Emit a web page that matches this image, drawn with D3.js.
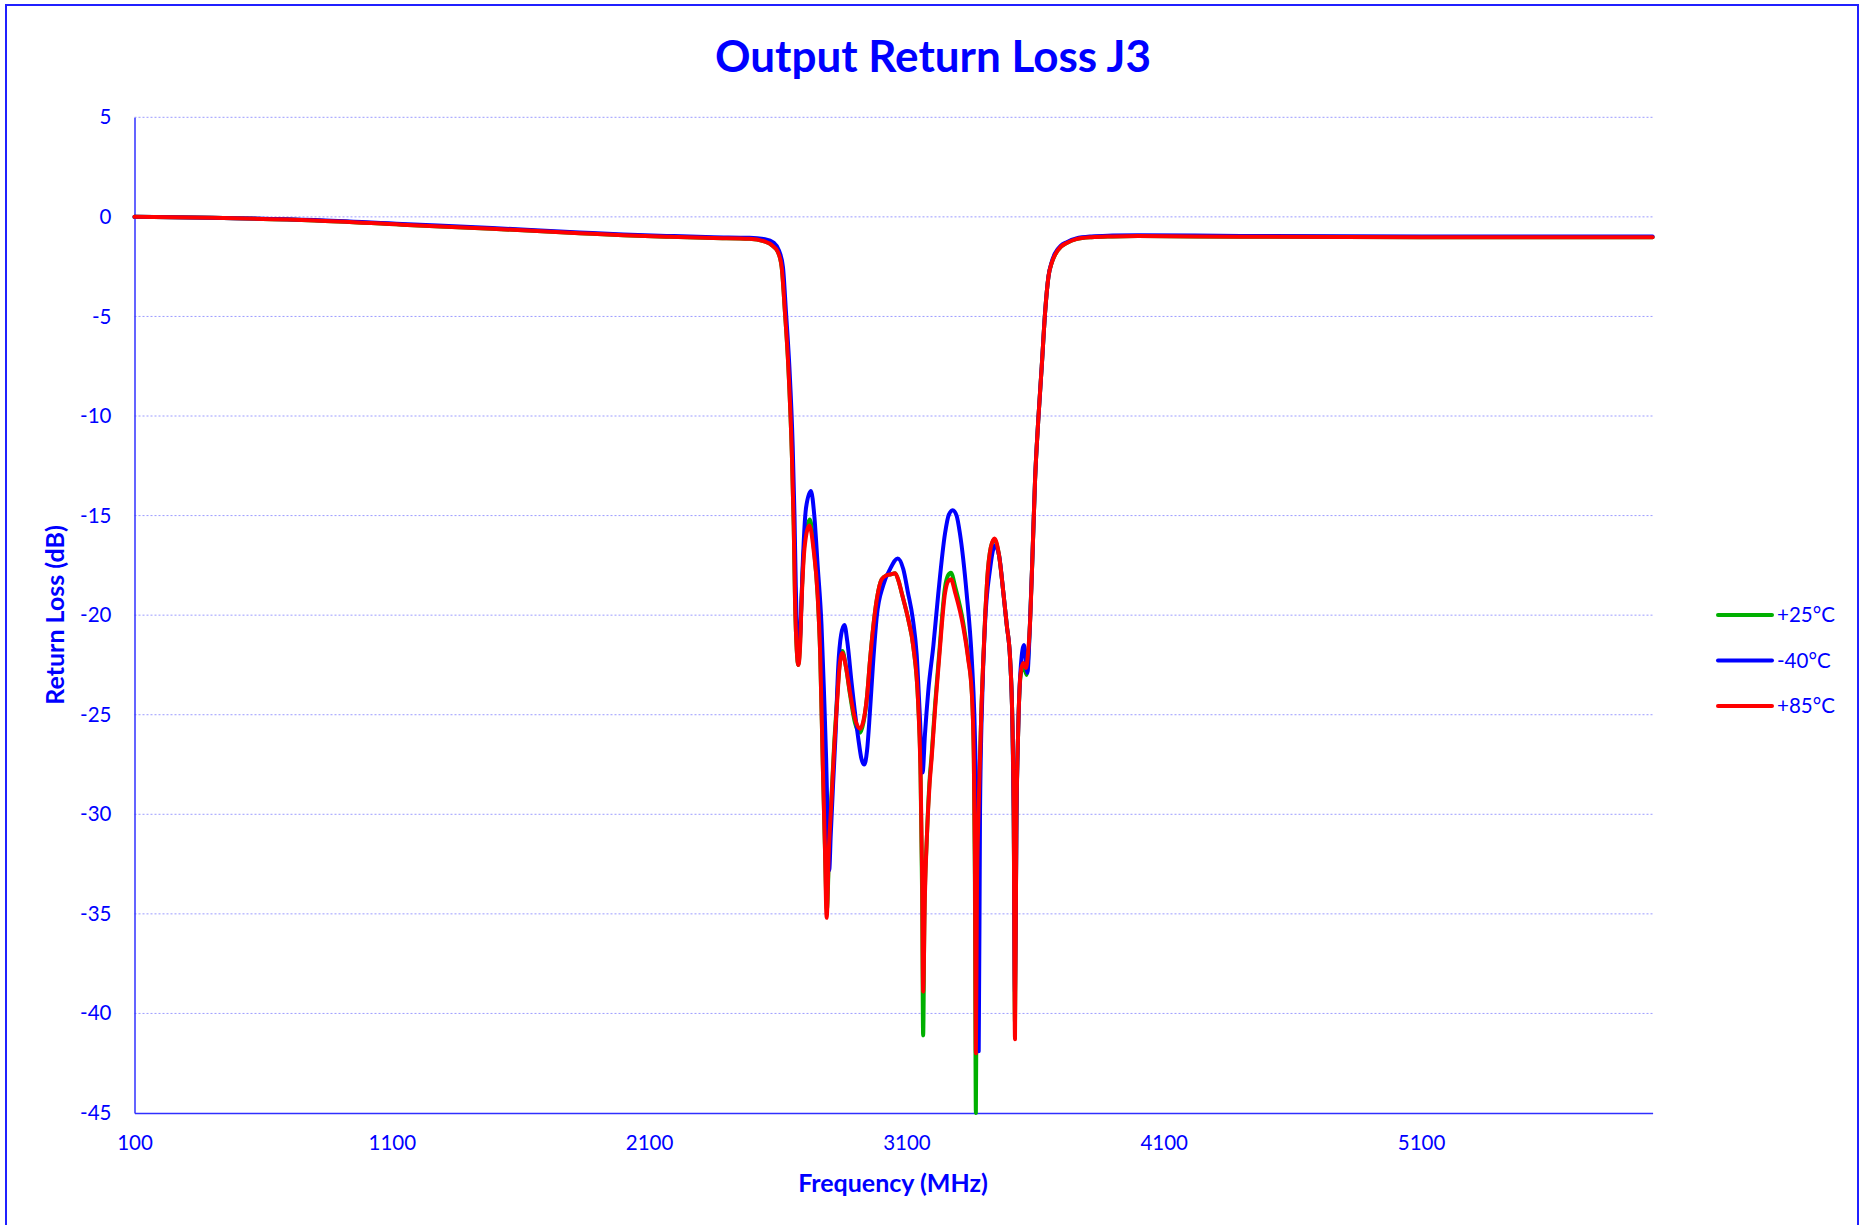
<!DOCTYPE html>
<html lang="en">

<head>
    <meta charset="UTF-8">
    <title>Output Return Loss J3</title>
    <style>
        body {
            margin: 0;
            padding: 0;
            background-color: #fff;
            font-family: Lato, "Open Sans", Arial, sans-serif;
        }

        .grid line {
            stroke: #9c9cff;
            stroke-width: 1;
            stroke-dasharray: 2, 2;
        }

        .axis text {
            fill: #0000ff;
            font-size: 20.5px;
            font-family: Lato, "Open Sans", sans-serif;
        }

        .series {
            fill: none;
            stroke-width: 4px;
            stroke-linejoin: round;
            stroke-linecap: round;
        }
    </style>
</head>

<body>
    <div id="chart"></div>
    <script src="https://d3js.org/d3.v7.min.js"></script>
    <script>
        // [frequency MHz, return loss dB]
        const plus25 = [[100, 0], [400, -0.05], [800, -0.18], [1140, -0.39], [1490, -0.6], [1830, -0.82], [2000, -0.92], [2180, -1.0], [2350, -1.06], [2490, -1.1], [2545, -1.22], [2580, -1.45], [2600, -1.75], [2615, -2.5], [2628, -4.8], [2641, -7.5], [2655, -12], [2662, -15.5], [2667, -19.2], [2674, -21.8], [2680, -22.5], [2686, -21.6], [2693, -19], [2705, -16.2], [2725, -15.2], [2740, -16.6], [2755, -19], [2765, -22], [2775, -27.5], [2783, -31.5], [2791, -34.8], [2800, -31.5], [2810, -28.8], [2820, -26.3], [2830, -24.3], [2840, -22.5], [2851, -21.8], [2865, -22.6], [2881, -24], [2900, -25.4], [2920, -25.9], [2933, -25.4], [2946, -24.2], [2959, -22.2], [2971, -20.6], [2985, -19.2], [3004, -18.2], [3023, -18.0], [3040, -17.95], [3056, -17.9], [3070, -18.3], [3082, -18.9], [3107, -20.2], [3127, -21.6], [3146, -24.5], [3155, -28], [3161, -34], [3165, -41.1], [3170, -35], [3180, -31], [3190, -28.3], [3198, -27], [3212, -24.4], [3227, -22], [3250, -18.6], [3262, -18], [3273, -17.87], [3290, -18.6], [3321, -20.4], [3340, -22.1], [3354, -23.8], [3362, -27.2], [3366, -33], [3370, -45], [3374, -35], [3380, -30], [3386, -27.2], [3392, -24.5], [3399, -22.2], [3407, -19.8], [3414, -18.2], [3428, -16.6], [3442, -16.2], [3460, -17], [3477, -18.9], [3490, -20.5], [3503, -22.2], [3512, -25.5], [3517, -30], [3522, -40.5], [3527, -31], [3534, -26], [3544, -23], [3554, -22.5], [3567, -23.0], [3574, -22], [3580, -20.5], [3590, -17], [3600, -13.2], [3612, -10.3], [3626, -7.5], [3639, -4.8], [3652, -3.0], [3665, -2.3], [3678, -1.89], [3700, -1.5], [3723, -1.31], [3760, -1.12], [3819, -1.02], [3900, -0.98], [4000, -0.96], [4400, -1.0], [5100, -1.02], [6000, -1.02]];

        const minus40 = [[100, 0], [400, -0.04], [800, -0.16], [1140, -0.36], [1490, -0.56], [1830, -0.78], [2000, -0.88], [2180, -0.96], [2350, -1.02], [2490, -1.05], [2550, -1.12], [2585, -1.3], [2605, -1.7], [2620, -2.5], [2632, -4.8], [2645, -7.5], [2658, -11.5], [2665, -15], [2670, -18.5], [2677, -21.2], [2683, -21.6], [2689, -20.5], [2696, -17.8], [2710, -14.6], [2729, -13.77], [2742, -15], [2755, -17.5], [2770, -20.5], [2780, -24], [2788, -27.2], [2795, -31], [2800, -32.8], [2806, -31], [2815, -28.5], [2825, -25.9], [2835, -22.6], [2846, -21], [2859, -20.5], [2870, -21.3], [2887, -23.4], [2913, -26.2], [2925, -27.2], [2936, -27.5], [2947, -26.8], [2958, -24.9], [2970, -22.5], [2985, -20.05], [3010, -18.5], [3036, -17.7], [3066, -17.15], [3088, -17.7], [3105, -18.8], [3125, -20.2], [3140, -22], [3152, -25], [3163, -27.9], [3172, -26], [3185, -23.8], [3205, -21.5], [3224, -18.9], [3250, -15.9], [3265, -14.95], [3280, -14.73], [3295, -15], [3308, -15.9], [3334, -18.9], [3354, -22.2], [3364, -25], [3370, -28], [3376, -33], [3381, -41.9], [3386, -30], [3395, -24], [3405, -20.55], [3425, -17.7], [3444, -16.5], [3460, -17], [3477, -18.9], [3490, -20.5], [3503, -22.2], [3512, -25.5], [3517, -30], [3522, -39], [3528, -30], [3535, -25.5], [3545, -22.5], [3557, -21.5], [3570, -22.9], [3580, -20.5], [3590, -17], [3600, -13.2], [3612, -10.3], [3626, -7.5], [3639, -4.8], [3652, -3.0], [3665, -2.25], [3678, -1.82], [3700, -1.45], [3723, -1.27], [3760, -1.08], [3819, -0.98], [3900, -0.94], [4000, -0.92], [4400, -0.96], [5100, -0.98], [6000, -0.98]];

        const plus85 = [[100, 0], [400, -0.05], [800, -0.18], [1140, -0.39], [1490, -0.6], [1830, -0.82], [2000, -0.92], [2180, -1.0], [2350, -1.06], [2490, -1.1], [2545, -1.22], [2580, -1.45], [2600, -1.75], [2615, -2.5], [2628, -4.8], [2641, -7.5], [2655, -12], [2662, -15.5], [2667, -19.2], [2674, -21.8], [2680, -22.5], [2686, -21.8], [2693, -19.2], [2705, -16.5], [2723, -15.5], [2740, -16.8], [2755, -19], [2765, -22], [2775, -27.5], [2783, -31.5], [2790, -35.2], [2798, -32], [2810, -29], [2820, -26.5], [2830, -24.5], [2840, -22.6], [2851, -21.9], [2865, -22.6], [2881, -23.9], [2900, -25.2], [2920, -25.7], [2933, -25.3], [2946, -24.2], [2959, -22.2], [2971, -20.6], [2985, -19.2], [3004, -18.2], [3023, -18.0], [3040, -17.95], [3056, -17.9], [3070, -18.3], [3082, -18.9], [3107, -20.2], [3127, -21.6], [3146, -24.5], [3155, -28], [3161, -33], [3165, -38.9], [3172, -34], [3180, -31], [3190, -28.5], [3198, -27.2], [3212, -24.6], [3227, -22.2], [3250, -18.9], [3262, -18.3], [3273, -18.2], [3290, -18.9], [3321, -20.6], [3340, -22.2], [3354, -23.9], [3362, -27.2], [3366, -32], [3370, -42], [3374, -34], [3380, -30], [3386, -27.2], [3392, -24.5], [3399, -22.2], [3407, -19.8], [3414, -18.2], [3428, -16.6], [3442, -16.15], [3460, -17], [3477, -18.9], [3490, -20.5], [3503, -22.2], [3512, -25.5], [3517, -30], [3522, -41.3], [3527, -31], [3534, -26], [3544, -22.9], [3554, -22.4], [3565, -22.65], [3572, -22], [3580, -20.5], [3590, -17], [3600, -13.2], [3612, -10.3], [3626, -7.5], [3639, -4.8], [3652, -3.0], [3665, -2.3], [3678, -1.89], [3700, -1.5], [3723, -1.31], [3760, -1.12], [3819, -1.02], [3900, -0.98], [4000, -0.96], [4400, -1.0], [5100, -1.02], [6000, -1.02]];

        const seriesNames = ["+25°C", "-40°C", "+85°C"];
        const seriesColors = ["#00b000", "#0000ff", "#ff0000"];
        const xTicks = [100, 1100, 2100, 3100, 4100, 5100];
        const yTicks = [5, 0, -5, -10, -15, -20, -25, -30, -35, -40, -45];

        const width = 1864;
        const height = 1225;
        const plot = { left: 134.5, right: 1652.6, top: 117.3, bottom: 1113 };

        const svg = d3.select("#chart").append("svg")
            .attr("width", width)
            .attr("height", height)
            .style("display", "block");

        svg.append("rect")
            .attr("width", width)
            .attr("height", height)
            .attr("fill", "#fff");

        // outer chart frame (bottom edge runs off the page)
        svg.append("rect")
            .attr("x", 6)
            .attr("y", 5)
            .attr("width", 1852)
            .attr("height", 1240)
            .attr("fill", "none")
            .attr("stroke", "#2020ff")
            .attr("stroke-width", 2);

        const xScale = d3.scaleLinear()
            .domain([100, 6000])
            .range([plot.left, plot.right]);

        const yScale = d3.scaleLinear()
            .domain([-45, 5])
            .range([plot.bottom, plot.top]);

        // dotted horizontal gridlines
        svg.append("g")
            .attr("class", "grid")
            .selectAll("line")
            .data(yTicks.filter(d => d !== -45))
            .enter().append("line")
            .attr("x1", plot.left)
            .attr("x2", plot.right)
            .attr("y1", d => yScale(d))
            .attr("y2", d => yScale(d));

        // plain hyphen for negatives, like the original
        const xAxis = d3.axisBottom(xScale).tickValues(xTicks).tickSize(0).tickPadding(22).tickFormat(d => String(d));
        const yAxis = d3.axisLeft(yScale).tickValues(yTicks).tickSize(0).tickPadding(23).tickFormat(d => String(d));

        const gx = svg.append("g")
            .attr("class", "x axis")
            .attr("transform", "translate(0," + plot.bottom + ")")
            .call(xAxis);
        gx.select(".domain").attr("stroke", "#3030ff").attr("stroke-width", 1.5);

        const gy = svg.append("g")
            .attr("class", "y axis")
            .attr("transform", "translate(" + plot.left + ",0)")
            .call(yAxis);
        gy.select(".domain").attr("stroke", "#3030ff").attr("stroke-width", 1.5);

        svg.append("text")
            .attr("x", 933)
            .attr("y", 72)
            .attr("text-anchor", "middle")
            .attr("fill", "#0000ff")
            .style("font-size", "44px")
            .style("font-weight", "bold")
            .text("Output Return Loss J3");

        svg.append("text")
            .attr("x", 893)
            .attr("y", 1192)
            .attr("text-anchor", "middle")
            .attr("fill", "#0000ff")
            .style("font-size", "25px")
            .style("font-weight", "bold")
            .text("Frequency (MHz)");

        svg.append("text")
            .attr("transform", "translate(64,615) rotate(-90)")
            .attr("text-anchor", "middle")
            .attr("fill", "#0000ff")
            .style("font-size", "25px")
            .style("font-weight", "bold")
            .text("Return Loss (dB)");

        const line = d3.line()
            .x(d => xScale(d[0]))
            .y(d => yScale(d[1]))
            .curve(d3.curveMonotoneX);

        const allSeries = [plus25, minus40, plus85];

        svg.selectAll(".series")
            .data(allSeries)
            .enter().append("path")
            .attr("class", "series")
            .attr("d", line)
            .style("stroke", (d, i) => seriesColors[i]);

        // legend
        const legendY = [615, 660.5, 706];
        const legend = svg.selectAll(".legend")
            .data(seriesNames)
            .enter().append("g")
            .attr("class", "legend")
            .attr("transform", (d, i) => "translate(1718," + legendY[i] + ")");

        legend.append("line")
            .attr("x1", 0)
            .attr("x2", 54)
            .attr("stroke", (d, i) => seriesColors[i])
            .attr("stroke-width", 4)
            .attr("stroke-linecap", "round");

        legend.append("text")
            .attr("x", 59)
            .attr("y", 7)
            .attr("fill", "#0000ff")
            .style("font-size", "20.5px")
            .text(d => d);
    </script>
</body>

</html>
